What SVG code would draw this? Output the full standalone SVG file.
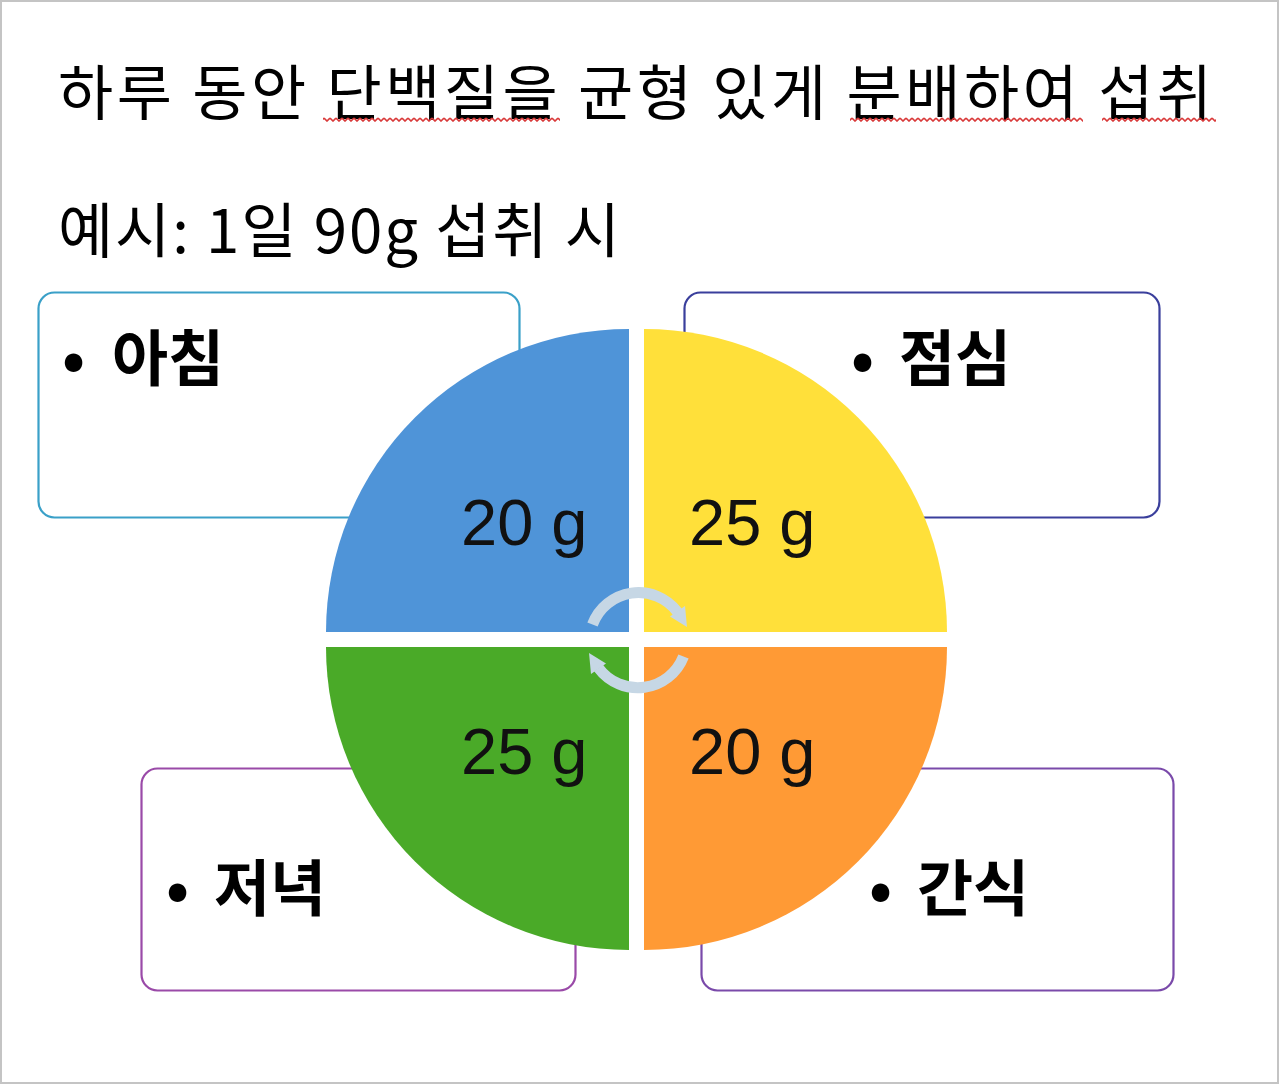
<svg xmlns="http://www.w3.org/2000/svg" width="1280" height="1085" viewBox="0 0 1280 1085">
<defs>
<style>
.t{font-family:"Noto Sans CJK KR","Noto Sans",sans-serif;fill:#000}
.h{font-size:60px}
.lb{font-family:"Noto Sans CJK KR","Noto Sans",sans-serif;font-size:61px;font-weight:bold;fill:#000}
.num{font-family:"Liberation Sans",Arial,sans-serif;font-size:65px;fill:#111}
.box{fill:#fff;stroke-width:2.2}
.arc{fill:none;stroke:#C6D7E5;stroke-width:11}
.ah{fill:#C6D7E5}
</style>
<pattern id="sq" x="0" y="117" width="6" height="5" patternUnits="userSpaceOnUse">
<path d="M0,1 L3,4 L6,1" fill="none" stroke="#D93A3A" stroke-width="1.6"/>
</pattern>
</defs>
<rect x="0" y="0" width="1280" height="1085" fill="#fff"/>
<rect x="1" y="1" width="1277" height="1082" fill="none" stroke="#C4C4C4" stroke-width="2"/>

<g id="title">
<text class="t h" x="58" y="115" textLength="1154" lengthAdjust="spacing">하루 동안 단백질을 균형 있게 분배하여 섭취</text>
<rect x="323" y="117" width="237" height="5" fill="url(#sq)"/>
<rect x="850" y="117" width="233" height="5" fill="url(#sq)"/>
<rect x="1102" y="117" width="114" height="5" fill="url(#sq)"/>
</g>
<g id="subtitle">
<text class="t h" x="58" y="253" textLength="562" lengthAdjust="spacing">예시: 1일 90g 섭취 시</text>
</g>

<g id="box-breakfast">
<rect class="box" x="38.5" y="292.5" width="481" height="225" rx="16" stroke="#3AA0C8"/>
<text class="lb" x="62" y="381">•<tspan x="112">아침</tspan></text>
</g>
<g id="box-lunch">
<rect class="box" x="684.5" y="292.5" width="475" height="225" rx="16" stroke="#3A3F9C"/>
<text class="lb" x="851" y="381">•<tspan x="899">점심</tspan></text>
</g>
<g id="box-dinner">
<rect class="box" x="141.5" y="768.5" width="434" height="222" rx="16" stroke="#9A4AA8"/>
<text class="lb" x="166" y="911">•<tspan x="214">저녁</tspan></text>
</g>
<g id="box-snack">
<rect class="box" x="701.5" y="768.5" width="472" height="222" rx="16" stroke="#7A4AAA"/>
<text class="lb" x="869" y="911">•<tspan x="917">간식</tspan></text>
</g>

<g id="quarter-breakfast">
<path d="M629,632 H326 A303,303 0 0 1 629,329 Z" fill="#4F94D8"/>
<text class="num" x="461" y="545">20 g</text>
</g>
<g id="quarter-lunch">
<path d="M644,632 V329 A303,303 0 0 1 947,632 Z" fill="#FFE03A"/>
<text class="num" x="689" y="545">25 g</text>
</g>
<g id="quarter-snack">
<path d="M644,647 H947 A303,303 0 0 1 644,950 Z" fill="#FF9A35"/>
<text class="num" x="689" y="774">20 g</text>
</g>
<g id="quarter-dinner">
<path d="M629,647 V950 A303,303 0 0 1 326,647 Z" fill="#4AAA28"/>
<text class="num" x="461" y="774">25 g</text>
</g>

<g id="connectors">
<path class="arc" d="M592.5,624.5 A49,49 0 0 1 677.5,612"/>
<polygon class="ah" points="670,616.5 685,606 687,627"/>
<path class="arc" d="M683.5,656.5 A49,49 0 0 1 598.5,668"/>
<polygon class="ah" points="606,663.5 591,674 589,653"/>
</g>
</svg>
